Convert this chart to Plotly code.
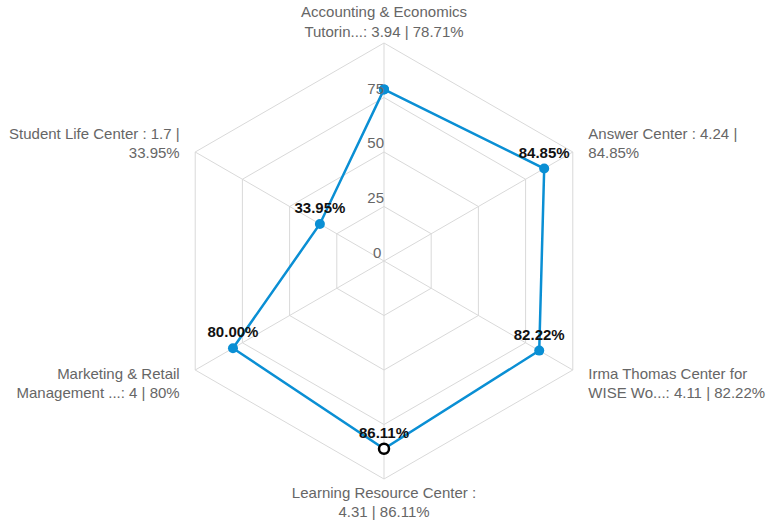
import plotly.graph_objects as go

# Centre names, average scores and percentage scores
centers = [
    "Accounting & Economics<br>Tutorin...",
    "Answer Center",
    "Irma Thomas Center for<br>WISE Wo...",
    "Learning Resource Center",
    "Marketing & Retail<br>Management ...",
    "Student Life Center",
]
scores = ["3.94", "4.24", "4.11", "4.31", "4", "1.7"]
percents = [78.71, 84.85, 82.22, 86.11, 80.00, 33.95]
radial_ticks = [0, 25, 50, 75]

# Axis labels: "name : score | pct", wrapped the same way as the source text
axis_labels = [
    "Accounting & Economics<br>Tutorin...: 3.94 | 78.71%",
    "Answer Center : 4.24 |<br>84.85%",
    "Irma Thomas Center for<br>WISE Wo...: 4.11 | 82.22%",
    "Learning Resource Center :<br>4.31 | 86.11%",
    "Marketing & Retail<br>Management ...: 4 | 80%",
    "Student Life Center : 1.7 |<br>33.95%",
]

# extra breathing room between the side labels and the chart
pad = "\u00a0" * 3
def padded(label, idx):
    lines = label.split("<br>")
    if idx in (1, 2):
        lines = [pad + s for s in lines]
    elif idx in (4, 5):
        lines = [s + pad for s in lines]
    return "<br>".join(lines)

tick_text = [padded(l, i) for i, l in enumerate(axis_labels)]

point_text = ["" if i == 0 else f"{v:.2f}%" for i, v in enumerate(percents)]

blue = "#0a8fd4"
font_family = "Liberation Sans, Arial, sans-serif"
tick_font = dict(family=font_family, size=15, color="#666666")

fig = go.Figure()
fig.add_trace(go.Scatterpolar(
    r=percents + [percents[0]],
    theta=axis_labels + [axis_labels[0]],
    mode="lines+markers+text",
    line=dict(color=blue, width=2.5),
    marker=dict(color=blue, size=10),
    text=point_text + [""],
    textposition="top center",
    textfont=dict(family=font_family, size=15, color="#111111", weight="bold"),
    cliponaxis=False,
    showlegend=False,
    hoverinfo="skip",
))

# highlighted point (Learning Resource Center)
fig.add_trace(go.Scatterpolar(
    r=[percents[3]],
    theta=[axis_labels[3]],
    mode="markers",
    marker=dict(color="white", size=10, line=dict(color="black", width=2.5)),
    showlegend=False,
    hoverinfo="skip",
))

# radial scale labels, sitting above-left of each ring on the top spoke
ring_ticks = [t for t in radial_ticks if t > 0]
fig.add_trace(go.Scatterpolar(
    r=ring_ticks,
    theta=[axis_labels[0]] * len(ring_ticks),
    mode="text",
    text=[str(t) for t in ring_ticks],
    textposition="top left",
    textfont=tick_font,
    cliponaxis=False,
    showlegend=False,
    hoverinfo="skip",
))

# the origin label sits at the polar centre (middle of the plot area)
fig.add_annotation(
    x=0.5, y=0.5, xref="paper", yref="paper",
    text=str(radial_ticks[0]),
    showarrow=False,
    xanchor="right", yanchor="bottom",
    xshift=-1, yshift=-2,
    font=tick_font,
)

grid = "#d9d9d9"
fig.update_layout(
    width=768,
    height=523,
    margin=dict(l=40, r=40, t=43, b=44),
    paper_bgcolor="white",
    plot_bgcolor="white",
    font=dict(family=font_family, size=15, color="#666666"),
    polar=dict(
        bgcolor="white",
        gridshape="linear",
        domain=dict(x=[0, 1], y=[0, 1]),
        radialaxis=dict(
            range=[0, 100],
            tickvals=radial_ticks,
            showticklabels=False,
            showline=False,
            gridcolor=grid,
            gridwidth=1,
            angle=90,
            ticks="",
        ),
        angularaxis=dict(
            rotation=90,
            direction="clockwise",
            showline=True,
            linecolor=grid,
            linewidth=1,
            gridcolor=grid,
            ticks="",
            tickvals=axis_labels,
            ticktext=tick_text,
            tickfont=tick_font,
        ),
    ),
)

fig.write_html("out.html")
